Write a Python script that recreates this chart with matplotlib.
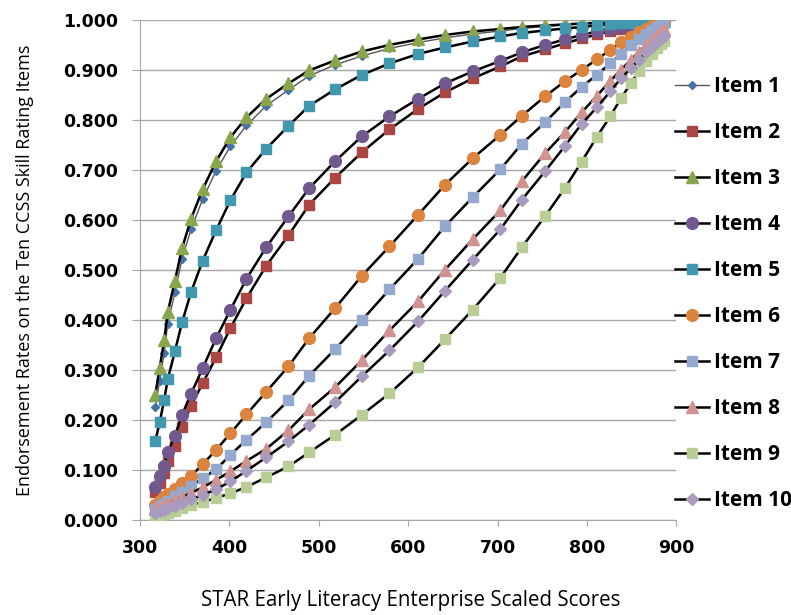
import matplotlib
matplotlib.use("Agg")
import matplotlib.pyplot as plt

plt.rcParams['font.family'] = ['Open Sans', 'DejaVu Sans']

# scaled score at each sample point
scores = [317, 322, 327, 331, 339, 347, 357, 370, 385, 401, 419, 441, 466, 489,
          518, 548, 579, 611, 641, 672, 703, 727, 753, 775, 794, 811, 826, 838,
          849, 858, 866, 873, 878, 883, 886]

item1 = [0.225, 0.278, 0.334, 0.392, 0.455, 0.522, 0.581, 0.641, 0.698, 0.747, 0.789, 0.828,
         0.860, 0.888, 0.910, 0.928, 0.943, 0.955, 0.964, 0.972, 0.978, 0.983, 0.987, 0.990,
         0.992, 0.993, 0.995, 0.996, 0.996, 0.997, 0.998, 0.998, 0.998, 0.999, 0.999]
item2 = [0.055, 0.073, 0.093, 0.117, 0.147, 0.186, 0.228, 0.273, 0.325, 0.383, 0.443, 0.508,
         0.569, 0.630, 0.684, 0.735, 0.781, 0.822, 0.855, 0.883, 0.907, 0.927, 0.941, 0.953,
         0.963, 0.971, 0.977, 0.982, 0.986, 0.989, 0.991, 0.993, 0.994, 0.995, 0.996]
item3 = [0.250, 0.304, 0.359, 0.415, 0.478, 0.543, 0.602, 0.661, 0.717, 0.765, 0.805, 0.842,
         0.873, 0.899, 0.919, 0.937, 0.950, 0.961, 0.970, 0.977, 0.982, 0.986, 0.989, 0.991,
         0.993, 0.994, 0.995, 0.996, 0.997, 0.997, 0.998, 0.998, 0.999, 0.999, 0.999]
item4 = [0.065, 0.087, 0.108, 0.135, 0.168, 0.210, 0.252, 0.303, 0.363, 0.420, 0.482, 0.545,
         0.607, 0.663, 0.717, 0.767, 0.807, 0.842, 0.873, 0.897, 0.918, 0.935, 0.950, 0.961,
         0.970, 0.977, 0.982, 0.986, 0.989, 0.991, 0.993, 0.994, 0.995, 0.996, 0.997]
item5 = [0.157, 0.195, 0.240, 0.281, 0.337, 0.395, 0.455, 0.518, 0.579, 0.639, 0.695, 0.742,
         0.788, 0.828, 0.861, 0.890, 0.913, 0.932, 0.945, 0.957, 0.967, 0.974, 0.979, 0.983,
         0.986, 0.989, 0.991, 0.993, 0.994, 0.995, 0.996, 0.997, 0.997, 0.998, 0.998]
item6 = [0.030, 0.038, 0.045, 0.052, 0.062, 0.073, 0.088, 0.111, 0.140, 0.173, 0.211, 0.256,
         0.307, 0.363, 0.423, 0.488, 0.547, 0.610, 0.670, 0.723, 0.770, 0.808, 0.847, 0.877,
         0.900, 0.921, 0.940, 0.955, 0.966, 0.975, 0.982, 0.987, 0.991, 0.994, 0.996]
item7 = [0.022, 0.027, 0.032, 0.038, 0.047, 0.056, 0.068, 0.083, 0.101, 0.130, 0.160, 0.195,
         0.239, 0.288, 0.341, 0.399, 0.461, 0.522, 0.587, 0.645, 0.701, 0.752, 0.795, 0.835,
         0.866, 0.890, 0.913, 0.932, 0.949, 0.962, 0.972, 0.980, 0.986, 0.990, 0.993]
item8 = [0.021, 0.026, 0.029, 0.033, 0.039, 0.045, 0.054, 0.065, 0.080, 0.097, 0.118, 0.142,
         0.179, 0.221, 0.265, 0.319, 0.379, 0.437, 0.500, 0.561, 0.619, 0.677, 0.733, 0.775,
         0.815, 0.848, 0.878, 0.900, 0.920, 0.936, 0.950, 0.961, 0.970, 0.977, 0.982]
item9 = [0.005, 0.008, 0.011, 0.014, 0.018, 0.024, 0.030, 0.036, 0.044, 0.053, 0.066, 0.085,
         0.107, 0.135, 0.170, 0.210, 0.253, 0.305, 0.361, 0.420, 0.484, 0.545, 0.607, 0.663,
         0.716, 0.766, 0.807, 0.843, 0.873, 0.898, 0.918, 0.932, 0.943, 0.952, 0.958]
item10 = [0.014, 0.017, 0.020, 0.023, 0.028, 0.034, 0.041, 0.050, 0.061, 0.077, 0.098, 0.125,
          0.157, 0.190, 0.235, 0.287, 0.339, 0.397, 0.458, 0.520, 0.581, 0.640, 0.697, 0.747,
          0.792, 0.825, 0.857, 0.883, 0.903, 0.920, 0.935, 0.946, 0.955, 0.962, 0.967]

labels = ["Item 1", "Item 2", "Item 3", "Item 4", "Item 5",
          "Item 6", "Item 7", "Item 8", "Item 9", "Item 10"]
series = [item1, item2, item3, item4, item5, item6, item7, item8, item9, item10]

# marker style per item: (marker, size, colour)
styles = [("D", 4.5, "#4572A7"), ("s", 7.5, "#AA4643"), ("^", 8.5, "#89A54E"),
          ("o", 8.5, "#71588F"), ("s", 7.5, "#4198AF"), ("o", 8.5, "#DB843D"),
          ("s", 7.5, "#93A9CF"), ("^", 8.5, "#D19392"), ("s", 7.5, "#B9CD96"),
          ("D", 6.5, "#A99BBD")]

fig = plt.figure(figsize=(7.91, 6.15), dpi=100)
ax = fig.add_axes([0.177, 0.1545, 0.678, 0.813])

for i, (ys, lab) in enumerate(zip(series, labels)):
    m, ms, c = styles[i]
    lw = 1.0 if i == 0 else 1.8
    lc = "#555555" if i == 0 else "black"
    ax.plot(scores, ys, color=lc, lw=lw, marker=m, markersize=ms,
            markerfacecolor=c, markeredgecolor=c, label=lab, zorder=3 + i)

ax.set_xlim(300, 900)
ax.set_ylim(0, 1)
ax.set_xticks(range(300, 901, 100))
ax.set_yticks([i / 10 for i in range(11)])
ax.set_yticklabels([f"{i / 10:.3f}" for i in range(11)])

ax.grid(axis="y", color="#a6a6a6", lw=1.0)
ax.set_axisbelow(True)
for s in ["top", "right"]:
    ax.spines[s].set_visible(False)
for s in ["left", "bottom"]:
    ax.spines[s].set_color("#a6a6a6")
ax.tick_params(axis="y", length=6, color="#a6a6a6", pad=10)
ax.tick_params(axis="x", length=4.5, color="#a6a6a6", pad=9)
for t in ax.get_xticklabels() + ax.get_yticklabels():
    t.set_family("DejaVu Sans")
    t.set_fontweight("bold")
    t.set_fontsize(12.5)

ax.set_xlabel("STAR Early Literacy Enterprise Scaled Scores", fontsize=14.8)
ax.xaxis.set_label_coords(0.505, -0.14)
ax.set_ylabel("Endorsement Rates on the Ten CCSS Skill Rating Items", fontsize=13)
ax.yaxis.set_label_coords(-0.197, 0.5)

leg = ax.legend(loc="center left", bbox_to_anchor=(0.998, 0.452), frameon=False,
                fontsize=15, handlelength=1.6, handletextpad=0.25, labelspacing=1.2,
                borderpad=0, borderaxespad=0)
for t in leg.get_texts():
    t.set_fontweight("bold")

fig.savefig("out.png", dpi=100)
